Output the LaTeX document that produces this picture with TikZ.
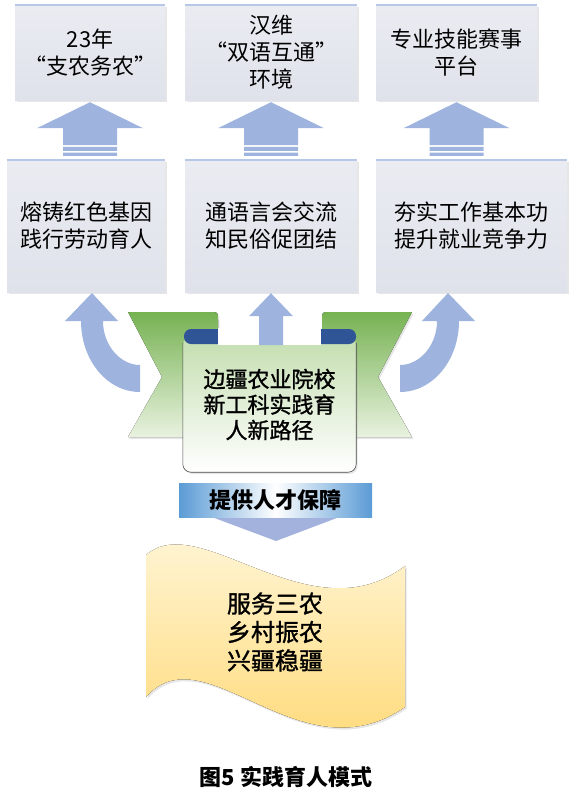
\documentclass[tikz,border=0pt]{standalone}
\usepackage{fontspec}
\setmainfont{Noto Sans CJK SC}
\newfontfamily\halfbold{Noto Sans CJK SC}[FakeBold=1.2]
\usepackage{xcolor}
\definecolor{boxtop}{RGB}{234,236,242}
\definecolor{boxbot}{RGB}{223,226,234}
\definecolor{boxrim}{RGB}{182,199,232}
\definecolor{arrblue}{RGB}{158,179,221}
\definecolor{wingdark}{RGB}{118,178,82}
\definecolor{winglight}{RGB}{233,242,224}
\definecolor{tabblue}{RGB}{47,85,151}
\definecolor{paperfill}{RGB}{196,222,176}
\definecolor{bannerblue}{RGB}{91,155,213}
\definecolor{tipblue}{RGB}{163,178,221}
\definecolor{goalpale}{RGB}{255,248,224}
\definecolor{goalgold}{RGB}{255,214,108}
\usepackage{tikz}
\usetikzlibrary{calc,shadows}

\begin{document}
\begin{tikzpicture}[x=1pt,y=-1pt,
soft/.style={drop shadow={opacity=.2,shadow xshift=1.5pt,shadow yshift=-2pt}},
tier/.style={soft,top color=boxtop,bottom color=boxbot,align=center,inner sep=0pt,font=\fontsize{22}{27}\selectfont},
paper/.style={soft,top color=paperfill,bottom color=white,rounded corners=8pt,align=center,inner sep=0pt,font=\halfbold\fontsize{22}{25.5}\selectfont},
wing/.style={soft,top color=wingdark,bottom color=winglight},
banner/.style={left color=bannerblue,right color=bannerblue,middle color=white,inner sep=0pt,font=\bfseries\fontsize{22}{22}\selectfont},
goal/.style={soft,top color=goalpale,bottom color=goalgold},
lift/.pic={\fill[arrblue] (0,0) -- (53,26) -- (27,26) -- (27,43) -- (-27,43) -- (-27,26) -- (-53,26) -- cycle;
  \fill[arrblue] (-27,44.7) rectangle (27,48.7) (-27,50.3) rectangle (27,53.7);},
turnarrow/.pic={\fill[arrblue] (0,0) -- (26,28) -- (11,28) .. controls (11,52) and (28,72) .. (48,72) -- (48,99)
  .. controls (15,99) and (-11,67) .. (-11,28) -- (-27,28) -- cycle;},
riser/.pic={\fill[arrblue] (0,0) -- (22,23) -- (12,23) -- (12,52) -- (-12,52) -- (-12,23) -- (-22,23) -- cycle;}]
\useasboundingbox (0,0) rectangle (580,803);
\node[tier,minimum width=150pt,minimum height=95pt] (t1) at (90,52.5) {23年\\“支农务农”};
\node[tier,minimum width=172pt,minimum height=95pt] (t2) at (271,52.5) {汉维\\“双语互通”\\环境};
\node[tier,minimum width=161pt,minimum height=95pt] (t3) at (456.5,52.5) {专业技能赛事\\平台};
\node[tier,minimum width=158pt,minimum height=132pt] (m1) at (86,226) {熔铸红色基因\\践行劳动育人};
\node[tier,minimum width=172pt,minimum height=132pt] (m2) at (271,226) {通语言会交流\\知民俗促团结};
\node[tier,minimum width=191pt,minimum height=132pt] (m3) at (471.5,226) {夯实工作基本功\\提升就业竞争力};
\foreach \n in {t1,t2,t3,m1,m2,m3} \draw[boxrim,line width=1.5pt] (\n.north west) -- (\n.north east);
\foreach \n in {t1,t2,t3} \pic at ([yshift=-2pt]\n.south) {lift};
\pic at (92,293) {turnarrow};
\pic[xscale=-1] at (448,293) {turnarrow};
\fill[wing] (128,312) -- (210,312) .. controls (218,312) .. (218,320) -- (218,437) -- (128,437) -- (162,377) -- cycle;
\fill[wing] (412,312) -- (330,312) .. controls (322,312) .. (322,320) -- (322,437) -- (412,437) -- (378,377) -- cycle;
\node[paper,minimum width=173pt,minimum height=135pt] (core) at (269.5,404.5) {边疆农业院校\\新工科实践育\\人新路径};
\draw[black!70,line width=.6pt,rounded corners=8pt] ([yshift=-6pt]core.north west) -- (core.south west) -- (core.south east) -- ([yshift=-6pt]core.north east);
\fill[tabblue,rounded corners=7pt] (184,329) rectangle (232,344) (308,329) rectangle (356,344);
\fill[white] (218,328) rectangle (321,345);
\pic at ([yshift=-1pt]m2.south) {riser};
\fill[tipblue] (193,510) -- (358,510) -- (276,541) -- cycle;
\node[banner,minimum width=193pt,minimum height=34pt] (hint) at (275.5,500) {提供人才保障};
\fill[goal] (146,555) .. controls (200,508) and (310,638) .. (405,566) -- (405,707) .. controls (300,780) and (205,630) .. (146,697) -- cycle;
\node[align=center,font=\halfbold\fontsize{24}{28.5}\selectfont] (aim) at (275,632) {服务三农\\乡村振农\\兴疆稳疆};
\node[font=\bfseries\fontsize{22}{22}\selectfont] (cap) at (286,777) {图5 实践育人模式};
\end{tikzpicture}
\end{document}
